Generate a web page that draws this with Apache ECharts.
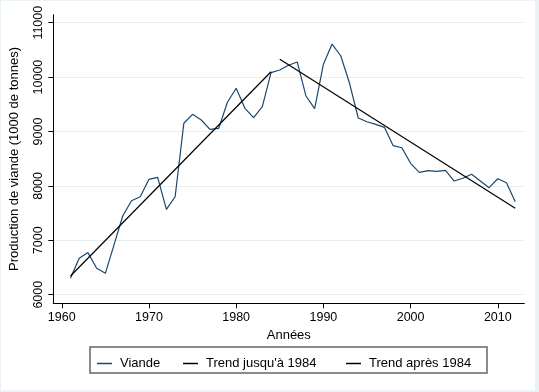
<!DOCTYPE html>
<html>
<head>
<meta charset="utf-8">
<script src="https://cdn.jsdelivr.net/npm/echarts@6/dist/echarts.min.js"></script>
<style>
html,body{margin:0;padding:0;background:#fff;}
#chart{width:539px;height:392px;}
</style>
</head>
<body>
<div id="chart"></div>
<script>
const years = [1961,1962,1963,1964,1965,1966,1967,1968,1969,1970,
  1971,1972,1973,1974,1975,1976,1977,1978,1979,1980,
  1981,1982,1983,1984,1985,1986,1987,1988,1989,1990,
  1991,1992,1993,1994,1995,1996,1997,1998,1999,2000,
  2001,2002,2003,2004,2005,2006,2007,2008,2009,2010,
  2011,2012];
const viande = [6301,6669,6774,6485,6393,6920,7452,7728,7801,8121,
  8158,7570,7801,9151,9316,9211,9040,9059,9537,9794,
  9426,9254,9456,10081,10131,10217,10278,9653,9419,10235,
  10608,10388,9886,9248,9180,9130,9077,8739,8702,8415,
  8250,8280,8268,8287,8090,8140,8213,8090,7967,8132,
  8059,7710];
const trend1Years = [1961, 1984];
const trend1Values = [6344, 10099];
const trend2Years = [1985, 2012];
const trend2Values = [10327, 7588];
const xTicks = [1960,1970,1980,1990,2000,2010];
const yTicks = [6000,7000,8000,9000,10000,11000];
const seriesNames = ['Viande', "Trend jusqu'à 1984", 'Trend après 1984'];

const pairs = (xs, ys) => xs.map((x, i) => [x, ys[i]]);
const FONT = '"Liberation Sans", Arial, Helvetica, sans-serif';
const plain = v => String(Math.round(v));

const chart = echarts.init(document.getElementById('chart'), null, {renderer: 'canvas'});
const legendBase = {
  orient: 'horizontal', icon: 'rect', itemWidth: 15, itemHeight: 1.5,
  itemGap: 0, padding: 0, top: 356,
  textStyle: {fontFamily: FONT, fontSize: 13, color: '#000', lineHeight: 15, padding: [0,0,0,3]}
};
chart.setOption({
  animation: false,
  backgroundColor: '#eaf2f3',
  graphic: [
    {type: 'rect', shape: {x: 1, y: 1, width: 534, height: 389}, style: {fill: '#fff'}, z: -10, silent: true},
    {type: 'rect', shape: {x: 90, y: 347, width: 397, height: 26}, style: {fill: 'none', stroke: '#666', lineWidth: 1.5}, silent: true}
  ],
  grid: {left: 53.3, right: 14.7, top: 14.7, bottom: 88.7, containLabel: false, outerBoundsMode: 'none'},
  xAxis: {
    type: 'value', min: 1959.03, max: 2013.04,
    name: 'Années', nameLocation: 'middle', nameGap: 24,
    nameTextStyle: {fontFamily: FONT, fontSize: 13, color: '#000'},
    axisLine: {show: true, onZero: false, lineStyle: {color: '#000', width: 1}},
    axisTick: {show: true, length: 5, customValues: xTicks, lineStyle: {color: '#000'}},
    axisLabel: {customValues: xTicks, formatter: plain, fontFamily: FONT, fontSize: 12.5, color: '#000', margin: 8},
    splitLine: {show: false}
  },
  yAxis: {
    type: 'value', min: 5842, max: 11147,
    name: 'Production de viande (1000 de tonnes)', nameLocation: 'middle', nameGap: 32, nameRotate: 90,
    nameTextStyle: {fontFamily: FONT, fontSize: 13, color: '#000'},
    axisLine: {show: true, onZero: false, lineStyle: {color: '#000', width: 1}},
    axisTick: {show: true, length: 5, customValues: yTicks, lineStyle: {color: '#000'}},
    axisLabel: {customValues: yTicks, formatter: plain, rotate: 90, fontFamily: FONT, fontSize: 12.5, color: '#000', margin: 8},
    splitLine: {show: true, lineStyle: {color: '#e6eef0', width: 1.2}}
  },
  legend: [
    Object.assign({}, legendBase, {left: 97, data: [seriesNames[0]]}),
    Object.assign({}, legendBase, {left: 183, data: [seriesNames[1]]}),
    Object.assign({}, legendBase, {left: 346, data: [seriesNames[2]]})
  ],
  series: [
    {name: seriesNames[0], type: 'line', data: pairs(years, viande), showSymbol: false, symbol: 'none',
     color: '#1a476f', lineStyle: {color: '#1a476f', width: 1.2}, z: 2},
    {name: seriesNames[1], type: 'line', data: pairs(trend1Years, trend1Values), showSymbol: false, symbol: 'none',
     color: '#000', lineStyle: {color: '#000', width: 1.2}, z: 3},
    {name: seriesNames[2], type: 'line', data: pairs(trend2Years, trend2Values), showSymbol: false, symbol: 'none',
     color: '#000', lineStyle: {color: '#000', width: 1.2}, z: 3}
  ]
});
</script>
</body>
</html>
